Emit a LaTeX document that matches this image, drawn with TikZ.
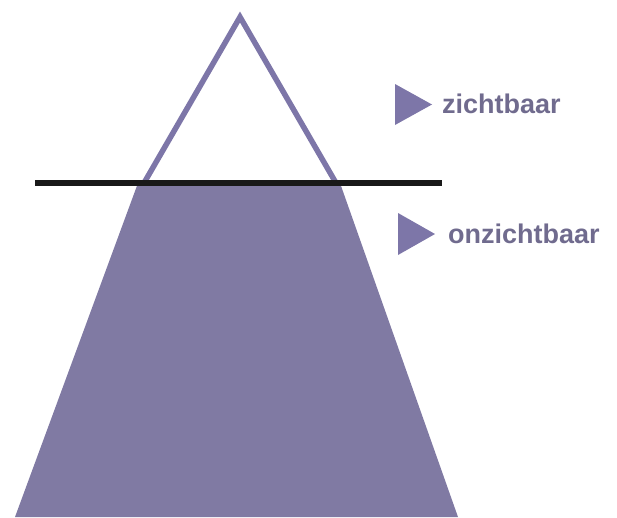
\documentclass[tikz,border=0pt]{standalone}
\usepackage{fontspec}
\setmainfont{Liberation Sans}
\definecolor{berg}{RGB}{128,122,163}
\definecolor{bergline}{RGB}{125,118,168}
\definecolor{labelc}{RGB}{112,107,142}
\definecolor{marker}{RGB}{125,118,168}
\begin{document}
\begin{tikzpicture}[x=1pt,y=-1pt,
  lbl/.style={anchor=base west,inner sep=0pt,font=\bfseries\fontsize{27}{30}\selectfont,text=labelc},
  mark/.style={fill=marker,draw=none}]
\useasboundingbox (0,0) rectangle (617,517);
% submerged part
\fill[berg] (138,183) -- (340,183) -- (458,517) -- (15,517) -- cycle;
% visible part outline
\draw[bergline,line width=5.5pt,line join=miter] (144,183) -- (240,17) -- (336,183);
% water line
\coordinate (wl) at (35,183);
\coordinate (wr) at (442,183);
\draw[black!90,line width=6pt] (wl) -- (wr);
% markers
\fill[marker] (395,84) -- (432,104.5) -- (395,125) -- cycle;
\fill[marker] (398,213) -- (435,234) -- (398,255) -- cycle;
% labels
\node[lbl] (zicht) at (442,113) {zichtbaar};
\node[lbl] (onzicht) at (448,243) {onzichtbaar};
\end{tikzpicture}
\end{document}
